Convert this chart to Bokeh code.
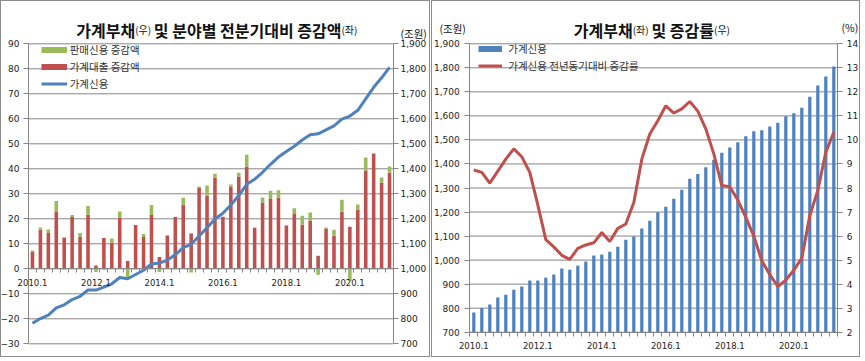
import numpy as np
from bokeh.plotting import figure
from bokeh.models import (Range1d, LinearAxis, FixedTicker, NumeralTickFormatter,
                          Legend, LegendItem, Label, ColumnDataSource)
from bokeh.layouts import row
from bokeh.embed import file_html
from bokeh.resources import INLINE

# ---------------- data ----------------
quarters = [f"{y}.{q}" for y in range(2010, 2022) for q in range(1, 5)][:46]
tick_labels = ["2010.1", "2012.1", "2014.1", "2016.1", "2018.1", "2020.1"]

# household credit outstanding (trillion won)
credit = [782, 801, 815, 844, 856, 877, 890, 915, 915, 927, 940, 965,
          960, 977, 994, 1019, 1023, 1035, 1056, 1085, 1098, 1131, 1164, 1199,
          1222, 1255, 1293, 1338, 1358, 1386, 1418, 1447, 1469, 1490, 1515, 1536,
          1540, 1556, 1572, 1599, 1611, 1634, 1680, 1726, 1764, 1806]
# quarter-on-quarter change of household loans (trillion won)
loans = [6.7, 15.6, 14.3, 22.7, 12.5, 20.7, 12.7, 21.6, 1.3, 12.3, 10.5, 20.3,
         3.1, 17.5, 12.7, 21.5, 4.7, 13.2, 20.7, 25.6, 14.1, 32.5, 29.3, 36.5,
         20.8, 32.9, 36.9, 40.9, 16.3, 26.5, 27.9, 28.5, 17.1, 21.9, 17.6, 19.2,
         5.2, 16.0, 13.2, 22.8, 16.8, 23.7, 39.3, 46.1, 34.4, 38.4]
# quarter-on-quarter change of sales credit (trillion won)
sales = [0.6, 0.9, 1.4, 4.4, -0.4, 0.8, 1.6, 3.5, -1.3, -0.4, 1.6, 2.6,
         -3.3, -0.3, 1.2, 4.0, -1.3, 0.3, -0.3, 2.8, -1.5, 0.4, 4.0, 1.5,
         0.0, 0.8, 1.5, 4.7, 0.2, 2.0, 3.3, 2.9, 0.3, 2.3, 3.6, 3.3,
         -2.4, 0.5, 2.4, 4.8, -4.8, 2.0, 5.2, -0.3, 2.1, 2.5]
# year-on-year growth rate of household credit (%)
growth = [8.75, 8.65, 8.2, 8.7, 9.2, 9.63, 9.3, 8.65, 7.3, 5.85, 5.55, 5.2,
          5.03, 5.49, 5.63, 5.72, 6.15, 5.77, 6.32, 6.5, 7.4, 9.2, 10.25, 10.8,
          11.42, 11.12, 11.29, 11.6, 11.2, 10.46, 9.42, 8.1, 8.05, 7.5, 6.78, 6.0,
          4.97, 4.4, 3.9, 4.17, 4.58, 5.08, 6.85, 7.9, 9.49, 10.32]

L_TICKS = list(range(-30, 91, 10))        # left panel, left axis
L_RTICKS = list(range(700, 1901, 100))    # left panel, right axis
R_TICKS = list(range(700, 1901, 100))     # right panel, left axis
R_RTICKS = list(range(2, 15))             # right panel, right axis (%)

# ---------------- styles ----------------
KR = "Noto Sans CJK KR"
NUM = "DejaVu Sans"
GRID = "#868686"
RED = "#C0504D"
GREEN = "#9BBB59"
BLUE = "#4F81BD"
TXT = "#222222"

n = len(quarters)
xs = np.arange(1, n + 1)
x_lo, x_hi = 0.5, n + 0.5
loans_a = np.array(loans)
sales_a = np.array(sales)
s_bot = np.where(sales_a >= 0, loans_a, 0.0)
s_top = np.where(sales_a >= 0, loans_a + sales_a, sales_a)

tick_pos = [quarters.index(t) + 1 for t in tick_labels]
boundaries = [i + 0.5 for i in range(n + 1)]
overrides = {pos: lab for pos, lab in zip(tick_pos, tick_labels)}

src = ColumnDataSource(dict(x=xs, loan=loans_a, s_bot=s_bot, s_top=s_top,
                            credit=credit, growth=growth))


def canvas_range(d0, p0, d1, p1, c0, c1):
    """data value at canvas pixels c0, c1 given data d0@p0, d1@p1"""
    k = (d1 - d0) / (p1 - p0)
    return d0 + (c0 - p0) * k, d0 + (c1 - p0) * k


def style_y(ax, ticks, standoff, loc, bounds):
    ax.ticker = FixedTicker(ticks=ticks)
    ax.fixed_location = loc
    ax.bounds = bounds
    ax.axis_line_color = GRID
    ax.major_tick_line_color = GRID
    ax.major_tick_in = 0
    ax.major_tick_out = 5
    ax.minor_tick_line_color = None
    ax.major_label_standoff = standoff
    ax.major_label_text_font = NUM
    ax.major_label_text_font_size = "9px"
    ax.major_label_text_color = TXT


def style_x(ax, loc):
    ax.ticker = FixedTicker(ticks=tick_pos, minor_ticks=boundaries)
    ax.major_label_overrides = overrides
    ax.fixed_location = loc
    ax.bounds = (x_lo, x_hi)
    ax.axis_line_color = GRID
    ax.major_tick_line_color = None
    ax.major_tick_in = 0
    ax.major_tick_out = 0
    ax.minor_tick_line_color = GRID
    ax.minor_tick_in = 0
    ax.minor_tick_out = 4
    ax.major_label_standoff = 6
    ax.major_label_text_font = NUM
    ax.major_label_text_font_size = "8.5px"
    ax.major_label_text_color = TXT


def base_fig(w, h, xr, yr):
    p = figure(width=w, height=h, x_range=Range1d(*xr), y_range=Range1d(*yr),
               output_backend="svg", toolbar_location=None,
               min_border_left=0, min_border_right=0,
               min_border_top=0, min_border_bottom=0)
    p.outline_line_color = None
    p.xgrid.visible = False
    p.ygrid.visible = False
    p.background_fill_color = "white"
    p.border_fill_color = "white"
    p.styles = {"border": "1px solid #8c8c8c"}
    return p


def add_text(p, text, x, y, size, bold=False, baseline="alphabetic", align="left"):
    p.add_layout(Label(x=x, y=y, x_units="screen", y_units="screen", text=text,
                       text_font=KR, text_font_size=size,
                       text_font_style="bold" if bold else "normal",
                       text_color="#111111", text_baseline=baseline,
                       text_align=align))


def style_legend(lg, gw, st, sp):
    lg.glyph_width = gw
    lg.glyph_height = 17
    lg.label_height = 17
    lg.label_standoff = st
    lg.spacing = sp
    lg.padding = 0
    lg.margin = 0
    lg.border_line_color = None
    lg.background_fill_alpha = 0
    lg.label_text_font = KR
    lg.label_text_font_size = "10.5px"
    lg.label_text_color = "#333333"


def legend_key(p, color, width):
    # key-only renderer: a single missing point, nothing is drawn in the plot
    return p.line(x=[np.nan], y=[np.nan], line_color=color, line_width=width,
                  line_cap="butt")


# ---------------- left panel ----------------
LW, LH = 430, 357
lxr = canvas_range(x_lo, 27, x_hi, 392, 0, LW)
lyr = canvas_range(90, 42.3, -30, 342.3, LH, 0)
p1 = base_fig(LW, LH, lxr, lyr)
p1.extra_y_ranges = {"credit": Range1d(1000 + 10 * lyr[0], 1000 + 10 * lyr[1])}

p1.segment(x0=x_lo, x1=x_hi, y0=L_TICKS, y1=L_TICKS, line_color=GRID, line_width=1)
style_y(p1.yaxis[0], L_TICKS, 4, x_lo, (L_TICKS[0], L_TICKS[-1]))
ax_r1 = LinearAxis(y_range_name="credit", formatter=NumeralTickFormatter(format="0,0"))
style_y(ax_r1, L_RTICKS, 2, x_hi, (L_RTICKS[0], L_RTICKS[-1]))
p1.add_layout(ax_r1, "right")
style_x(p1.xaxis[0], 0)

r_loan = p1.vbar(x="x", top="loan", bottom=0, width=0.45, fill_color=RED,
                 line_color=None, source=src)
r_sales = p1.vbar(x="x", bottom="s_bot", top="s_top", width=0.45,
                  fill_color=GREEN, line_color=None, source=src)
r_cred = p1.line(x="x", y="credit", y_range_name="credit", line_color=BLUE,
                 line_width=3, source=src)
k_sales = legend_key(p1, GREEN, 6)
k_loan = legend_key(p1, RED, 6)

leg1 = Legend(items=[LegendItem(label="판매신용 증감액", renderers=[k_sales]),
                     LegendItem(label="가계대출 증감액", renderers=[k_loan]),
                     LegendItem(label="가계신용", renderers=[r_cred])],
              location=(39.7, 266))
style_legend(leg1, 26, 3, -3)
p1.add_layout(leg1)

ty = 328.7
add_text(p1, "가계부채", 133.7, ty, "16px", bold=True, align="right")
add_text(p1, "(우)", 133.7, ty, "10px")
add_text(p1, "및 분야별 전분기대비 증감액", 339.9, ty, "16px", bold=True, align="right")
add_text(p1, "(좌)", 339.9, ty, "10px")
add_text(p1, "(조원)", 399, 325.5, "10.5px", baseline="middle")

# ---------------- right panel ----------------
RW, RH = 429, 357
rxr = canvas_range(x_lo, 37.3, x_hi, 405.3, 0, RW)
ryr = canvas_range(1900, 42.3, 700, 330.7, RH, 0)
p2 = base_fig(RW, RH, rxr, ryr)
p2.extra_y_ranges = {"pct": Range1d(2 + (ryr[0] - 700) / 100, 2 + (ryr[1] - 700) / 100)}

p2.segment(x0=x_lo, x1=x_hi, y0=R_TICKS, y1=R_TICKS, line_color=GRID, line_width=1)
style_y(p2.yaxis[0], R_TICKS, 5, x_lo, (R_TICKS[0], R_TICKS[-1]))
p2.yaxis[0].formatter = NumeralTickFormatter(format="0,0")
ax_r2 = LinearAxis(y_range_name="pct")
style_y(ax_r2, R_RTICKS, 4, x_hi, (R_RTICKS[0], R_RTICKS[-1]))
p2.add_layout(ax_r2, "right")
style_x(p2.xaxis[0], R_TICKS[0])

r_bar = p2.vbar(x="x", top="credit", bottom=R_TICKS[0], width=0.4, fill_color=BLUE,
                line_color=None, source=src)
r_gr = p2.line(x="x", y="growth", y_range_name="pct", line_color=RED,
               line_width=3, source=src)
k_bar = legend_key(p2, BLUE, 6)

leg2 = Legend(items=[LegendItem(label="가계신용", renderers=[k_bar]),
                     LegendItem(label="가계신용 전년동기대비 증감률", renderers=[r_gr])],
              location=(46.3, 284))
style_legend(leg2, 24, 6, -4)
p2.add_layout(leg2)

add_text(p2, "가계부채", 200.2, ty, "16px", bold=True, align="right")
add_text(p2, "(좌)", 200.2, ty, "10px")
add_text(p2, "및 증감률", 281.5, ty, "16px", bold=True, align="right")
add_text(p2, "(우)", 281.5, ty, "10px")
add_text(p2, "(조원)", 7, 330.5, "10.5px", baseline="middle")
add_text(p2, "(%)", 409, 331, "10.5px", baseline="middle")

layout = row(p1, p2, spacing=1)
open("out.html", "w").write(file_html(layout, INLINE))
